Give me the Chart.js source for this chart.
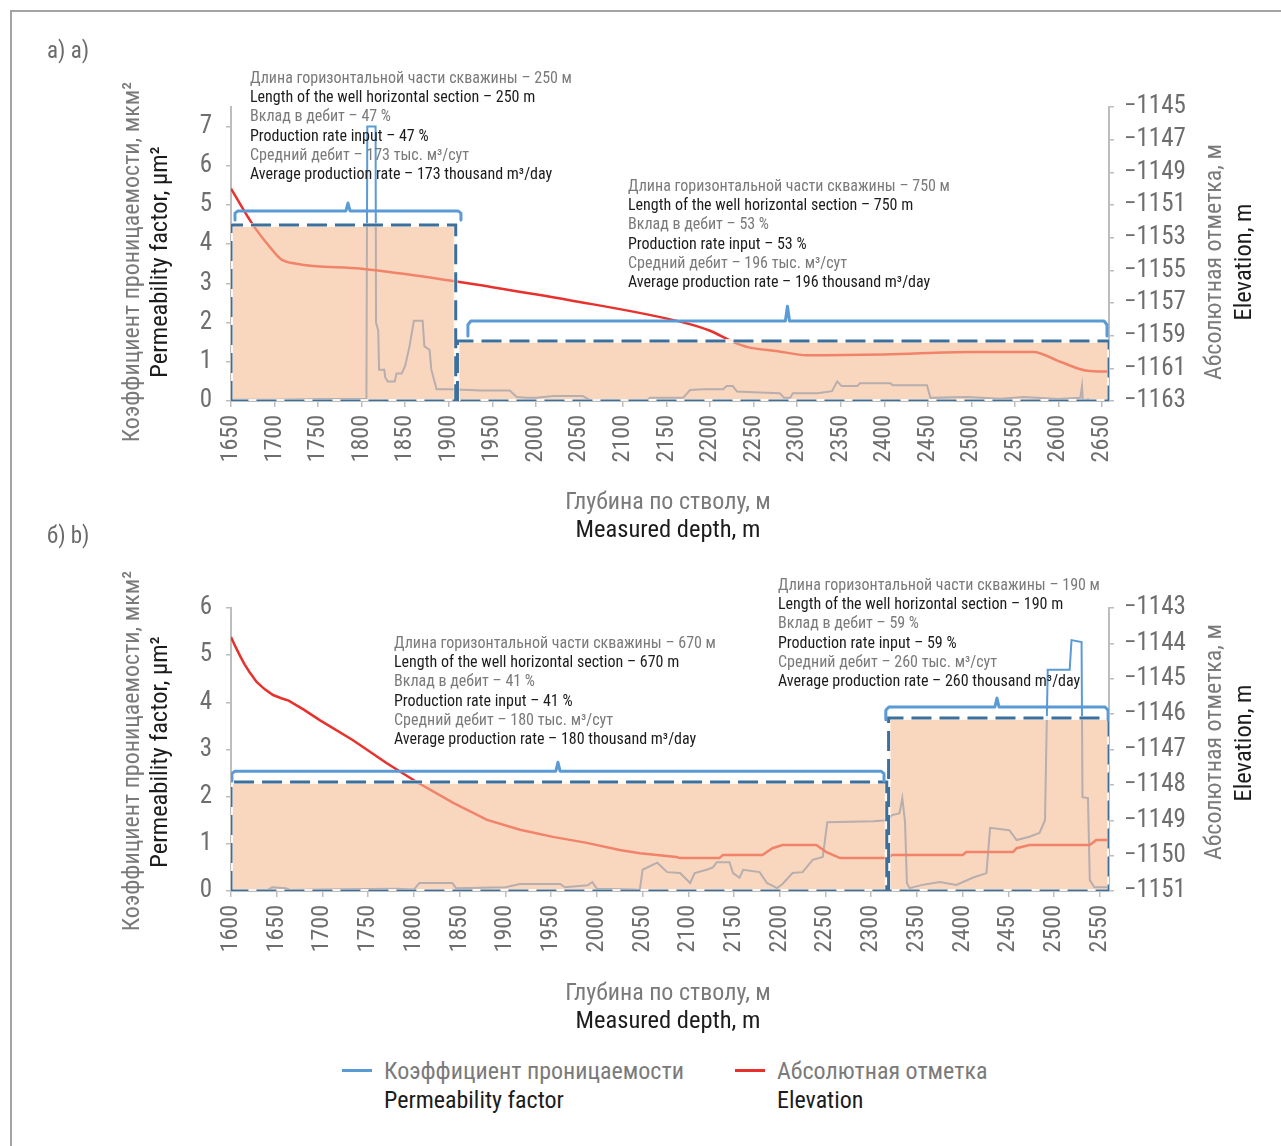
<!DOCTYPE html>
<html><head><meta charset="utf-8">
<script src="https://cdn.jsdelivr.net/npm/chart.js@4.4.1/dist/chart.umd.min.js"></script>
<style>
html,body{margin:0;padding:0;background:#fff;}
body{width:1281px;height:1146px;overflow:hidden;position:relative;font-family:"Roboto Condensed","Liberation Sans Narrow",Roboto,sans-serif;}
#frame{position:absolute;left:10px;top:10px;width:1400px;height:1300px;border:2px solid #a3a3a3;box-sizing:border-box;}
canvas{position:absolute;left:0;}
.t{position:absolute;white-space:nowrap;line-height:1;}
.g{color:#7a7a7a}.k{color:#1c1c1c}
.rot{transform:translate(-50%,-50%) rotate(-90deg);}
.ctr{transform:translate(-50%,-50%);}
.ann{position:absolute;font-size:16px;line-height:19.2px;white-space:nowrap;}
.ann div{height:19.2px;}
.ttl{font-size:24px;}
.ttlk{font-size:24.5px;}
.leg{position:absolute;height:3px;width:30px;}
</style></head><body>
<div id="frame"></div>
<canvas id="cA" width="1281" height="500" style="top:0"></canvas>
<canvas id="cB" width="1281" height="500" style="top:500px"></canvas>

<div class="t g" style="left:47px;top:39px;font-size:23px;color:#6a6a6a">а) a)</div>
<div class="t g" style="left:47px;top:524px;font-size:23px;color:#6a6a6a">б) b)</div>

<!-- top chart annotations -->
<div class="ann" style="left:250px;top:68px">
<div class="g">Длина горизонтальной части скважины – 250 м</div>
<div class="k">Length of the well horizontal section – 250 m</div>
<div class="g">Вклад в дебит – 47 %</div>
<div class="k">Production rate input – 47 %</div>
<div class="g">Средний дебит – 173 тыс. м³/сут</div>
<div class="k">Average production rate – 173 thousand m³/day</div>
</div>
<div class="ann" style="left:628px;top:176px">
<div class="g">Длина горизонтальной части скважины – 750 м</div>
<div class="k">Length of the well horizontal section – 750 m</div>
<div class="g">Вклад в дебит – 53 %</div>
<div class="k">Production rate input – 53 %</div>
<div class="g">Средний дебит – 196 тыс. м³/сут</div>
<div class="k">Average production rate – 196 thousand m³/day</div>
</div>
<!-- bottom chart annotations -->
<div class="ann" style="left:394px;top:633px">
<div class="g">Длина горизонтальной части скважины – 670 м</div>
<div class="k">Length of the well horizontal section – 670 m</div>
<div class="g">Вклад в дебит – 41 %</div>
<div class="k">Production rate input – 41 %</div>
<div class="g">Средний дебит – 180 тыс. м³/сут</div>
<div class="k">Average production rate – 180 thousand m³/day</div>
</div>
<div class="ann" style="left:778px;top:575px">
<div class="g">Длина горизонтальной части скважины – 190 м</div>
<div class="k">Length of the well horizontal section – 190 m</div>
<div class="g">Вклад в дебит – 59 %</div>
<div class="k">Production rate input – 59 %</div>
<div class="g">Средний дебит – 260 тыс. м³/сут</div>
<div class="k">Average production rate – 260 thousand m³/day</div>
</div>

<!-- axis titles top -->
<div class="t g ttl rot" style="left:131px;top:262px">Коэффициент проницаемости, мкм²</div>
<div class="t k ttlk rot" style="left:159px;top:262px">Permeability factor, µm²</div>
<div class="t g ttl rot" style="left:1213px;top:262px">Абсолютная отметка, м</div>
<div class="t k ttlk rot" style="left:1243px;top:262px">Elevation, m</div>
<div class="t g ttl ctr" style="left:668px;top:501px">Глубина по стволу, м</div>
<div class="t k ttlk ctr" style="left:668px;top:529px">Measured depth, m</div>
<!-- axis titles bottom -->
<div class="t g ttl rot" style="left:131px;top:751px">Коэффициент проницаемости, мкм²</div>
<div class="t k ttlk rot" style="left:159px;top:752px">Permeability factor, µm²</div>
<div class="t g ttl rot" style="left:1213px;top:742px">Абсолютная отметка, м</div>
<div class="t k ttlk rot" style="left:1243px;top:743px">Elevation, m</div>
<div class="t g ttl ctr" style="left:668px;top:992px">Глубина по стволу, м</div>
<div class="t k ttlk ctr" style="left:668px;top:1020px">Measured depth, m</div>

<!-- legend -->
<div class="leg" style="left:342px;top:1069px;background:#5b9bd5"></div>
<div class="t g ttl" style="left:384px;top:1059px">Коэффициент проницаемости</div>
<div class="t k ttl" style="left:384px;top:1088px">Permeability factor</div>
<div class="leg" style="left:735px;top:1069px;background:#e8312c"></div>
<div class="t g ttl" style="left:777px;top:1059px">Абсолютная отметка</div>
<div class="t k ttl" style="left:777px;top:1088px">Elevation</div>

<script>
// ---------- DATA: chart a ----------
const xTicksA = [1650,1700,1750,1800,1850,1900,1950,2000,2050,2100,2150,2200,2250,2300,2350,2400,2450,2500,2550,2600,2650];
const leftTicksA = [0,1,2,3,4,5,6,7];
const rightTicksA = [-1163,-1161,-1159,-1157,-1155,-1153,-1151,-1149,-1147,-1145];
const permDepthA = [1650,1700,1760,1805,1805.5,1806.5,1816,1816.5,1819,1820,1826,1827,1830,1838,1840,1846,1850,1855,1860,1870,1872,1878,1880,1886,1900,1924,1936,1970,1978,1990,2001,2020,2054,2062,2128,2131,2169,2177,2192,2215,2219,2226,2231,2257,2280,2285,2292,2295,2323,2340,2346,2351,2369,2372,2407,2410,2449,2453,2495,2533,2560,2600,2625,2627,2628,2635];
const permValueA = [0.03,0.03,0.05,0.05,0.3,7.0,7.0,2.0,1.8,0.8,0.8,0.6,0.5,0.5,0.7,0.7,0.9,1.4,2.05,2.05,1.4,1.3,0.8,0.3,0.3,0.28,0.27,0.27,0.1,0.08,0.08,0.13,0.13,0.02,0.02,0.08,0.08,0.28,0.3,0.3,0.38,0.38,0.24,0.22,0.2,0.08,0.08,0.2,0.2,0.25,0.5,0.38,0.38,0.45,0.45,0.4,0.4,0.08,0.1,0.06,0.1,0.05,0.08,0.38,0.0,0.05];
const elevDepthA = [1650,1675,1695,1707,1725,1800,1860,1905,1935,2036,2170,2200,2227,2243,2278,2311,2400,2500,2571,2602,2633,2658];
const elevValueA = [-1150.0,-1152.2,-1153.6,-1154.3,-1154.6,-1154.9,-1155.3,-1155.65,-1155.9,-1156.8,-1158.2,-1158.7,-1159.4,-1159.7,-1159.95,-1160.2,-1160.15,-1160.0,-1160.0,-1160.6,-1161.15,-1161.2];
const segStartA = [1650,1910];
const segEndA = [1908,2658];
const segPermA = [4.49,1.53];
const brStartA = [1654.6,1922];
const brEndA = [1914,2655.7];
const brLevelA = [4.85,2.04];
const brHookA = [4.62,1.66];
const brNubA = [5.05,2.42];

// ---------- DATA: chart b ----------
const xTicksB = [1600,1650,1700,1750,1800,1850,1900,1950,2000,2050,2100,2150,2200,2250,2300,2350,2400,2450,2500,2550];
const leftTicksB = [0,1,2,3,4,5,6];
const rightTicksB = [-1151,-1150,-1149,-1148,-1147,-1146,-1145,-1144,-1143];
const permDepthB = [1600,1640,1645,1660,1665,1700,1750,1780,1800,1806,1842,1846,1900,1916,1960,1965,1990,1995,2000,2040,2047,2050,2066,2077,2091,2102,2107,2120,2127,2131,2145,2149,2156,2160,2178,2186,2197,2203,2214,2225,2236,2247,2252,2302,2317,2323,2331,2334,2337,2339,2342,2356,2375,2393,2411,2426,2430,2451,2459,2473,2484,2490,2493,2517,2519,2530,2531,2537,2539,2544,2560];
const permValueB = [0.02,0.02,0.08,0.06,0.02,0.03,0.04,0.05,0.03,0.17,0.17,0.06,0.08,0.15,0.15,0.08,0.12,0.19,0.05,0.03,0.02,0.45,0.6,0.4,0.38,0.17,0.38,0.45,0.5,0.61,0.61,0.38,0.28,0.45,0.4,0.17,0.06,0.15,0.38,0.4,0.66,0.72,1.46,1.48,1.5,1.61,1.65,1.97,1.46,0.17,0.06,0.13,0.19,0.13,0.28,0.38,1.34,1.29,1.08,1.15,1.23,1.5,4.69,4.69,5.32,5.28,1.99,1.97,0.23,0.08,0.08];
const elevDepthB = [1600,1605,1610,1615,1620,1628,1637,1646,1655,1663,1680,1697,1733,1770,1803,1843,1880,1916,1952,1989,2025,2047,2087,2091,2134,2138,2181,2192,2203,2240,2251,2266,2317,2323,2400,2404,2455,2459,2473,2539,2546,2560];
const elevValueB = [-1143.82,-1144.1,-1144.36,-1144.6,-1144.8,-1145.09,-1145.3,-1145.46,-1145.55,-1145.62,-1145.88,-1146.17,-1146.73,-1147.38,-1147.92,-1148.51,-1148.99,-1149.27,-1149.47,-1149.64,-1149.84,-1149.93,-1150.04,-1150.07,-1150.07,-1149.98,-1149.98,-1149.79,-1149.7,-1149.7,-1149.9,-1150.07,-1150.07,-1149.98,-1149.98,-1149.9,-1149.9,-1149.79,-1149.7,-1149.7,-1149.56,-1149.56];
const segStartB = [1600,2319];
const segEndB = [2317,2560];
const segPermB = [2.31,3.67];
const brStartB = [1601,2316];
const brEndB = [2314,2559];
const brLevelB = [2.54,3.90];
const brHookB = [2.33,3.63];
const brNubB = [2.73,4.09];

// ---------- STYLE ----------
const FONT = '"Roboto Condensed", "Liberation Sans Narrow", Roboto, sans-serif';
const AXIS = '#bdbdbd';
const TICKC = '#6e6e6e';
const BLUE = '#5b9bd5';
const RED = '#e8312c';
const DASH = '#3d6f9b';
const FILL = 'rgba(245,186,146,0.6)';
Chart.defaults.font.family = FONT;

function pts(xs, ys){ return xs.map((x,i)=>({x:x, y:ys[i]})); }

function buildChart(id, d){
  const datasets = [];
  // brackets
  for (let i=0;i<d.brS.length;i++){
    const x0=d.brS[i], x1=d.brE[i], lv=d.brL[i], hk=d.brH[i], nb=d.brN[i];
    const xc=(x0+x1)/2, dx=d.dx, dy=(lv-hk)*0.25;
    datasets.push({data:[{x:x0,y:hk},{x:x0,y:lv-dy},{x:x0+dx,y:lv},{x:xc-dx*0.7,y:lv},{x:xc,y:nb},{x:xc+dx*0.7,y:lv},{x:x1-dx,y:lv},{x:x1,y:lv-dy},{x:x1,y:hk}],
      yAxisID:'y', borderColor:BLUE, borderWidth:3, pointRadius:0, fill:false, tension:0, borderJoinStyle:'round', borderCapStyle:'round', order:0});
  }
  // rect dashed borders + fills
  for (let i=0;i<d.sS.length;i++){
    const x0=d.sS[i], x1=d.sE[i], h=d.sP[i];
    const poly=[{x:x0,y:0},{x:x0,y:h},{x:x1,y:h},{x:x1,y:0},{x:x0,y:0}];
    datasets.push({data:poly, yAxisID:'y', borderColor:DASH, borderWidth:3, borderDash:[20,8], pointRadius:0, fill:false, tension:0, order:1});
    datasets.push({data:poly.map(p=>({x:p.x,y:p.y})), yAxisID:'y', borderColor:'rgba(255,255,255,0.85)', borderWidth:4, backgroundColor:FILL, pointRadius:0, fill:'shape', tension:0, order:2});
  }
  datasets.push({data:pts(d.eX,d.eY), yAxisID:'y2', borderColor:RED, borderWidth:2.5, pointRadius:0, fill:false,
    tension: d.smooth?0.4:0, cubicInterpolationMode: d.smooth?'monotone':'default', order:3});
  datasets.push({data:pts(d.pX,d.pY), yAxisID:'y', borderColor:BLUE, borderWidth:2, pointRadius:0, fill:false, tension:0, order:4});

  new Chart(document.getElementById(id), {
    type:'line',
    data:{datasets},
    options:{
      responsive:false, animation:false, devicePixelRatio:1,
      layout:{padding:{top:d.padTop,left:0,right:0,bottom:0}},
      plugins:{legend:{display:false}, tooltip:{enabled:false}, title:{display:false}},
      events:[],
      scales:{
        x:{type:'linear', position:'bottom', min:d.xMin, max:d.xMax,
          afterBuildTicks:s=>{s.ticks=d.xT.map(v=>({value:v}));},
          afterFit:s=>{s.height=d.xH;},
          ticks:{minRotation:90, maxRotation:90, autoSkip:false, padding:8, color:TICKC, font:{size:24}, callback:v=>String(v)},
          grid:{drawOnChartArea:false, drawTicks:true, tickLength:6, color:AXIS, lineWidth:1.5},
          border:{display:true, color:AXIS, width:2}},
        y:{type:'linear', position:'left', min:0, max:d.yMax,
          afterBuildTicks:s=>{s.ticks=d.yT.map(v=>({value:v}));},
          afterFit:s=>{s.width=231;},
          ticks:{autoSkip:false, padding:14, color:TICKC, font:{size:25}, callback:v=>String(v)},
          grid:{drawOnChartArea:false, drawTicks:true, tickLength:5, color:AXIS, lineWidth:1.5},
          border:{display:true, color:AXIS, width:2}},
        y2:{type:'linear', position:'right', min:d.y2Min, max:d.y2Max,
          afterBuildTicks:s=>{s.ticks=d.y2T.map(v=>({value:v}));},
          afterFit:s=>{s.width=172;},
          ticks:{autoSkip:false, padding:10, color:TICKC, font:{size:25}, callback:v=>'\u2212'+Math.abs(v)},
          grid:{drawOnChartArea:false, drawTicks:true, tickLength:5, color:AXIS, lineWidth:1.5},
          border:{display:true, color:AXIS, width:2}}
      }
    }
  });
}

buildChart('cA', {xMin:1650, xMax:2658, xT:xTicksA, yMax:7.5, yT:leftTicksA, y2Min:-1163, y2Max:-1145, y2T:rightTicksA,
  pX:permDepthA, pY:permValueA, eX:elevDepthA, eY:elevValueA, smooth:true,
  sS:segStartA, sE:segEndA, sP:segPermA, brS:brStartA, brE:brEndA, brL:brLevelA, brH:brHookA, brN:brNubA,
  dx:3.4, padTop:107, xH:99});
buildChart('cB', {xMin:1600, xMax:2560, xT:xTicksB, yMax:6, yT:leftTicksB, y2Min:-1151, y2Max:-1143, y2T:rightTicksB,
  pX:permDepthB, pY:permValueB, eX:elevDepthB, eY:elevValueB, smooth:false,
  sS:segStartB, sE:segEndB, sP:segPermB, brS:brStartB, brE:brEndB, brL:brLevelB, brH:brHookB, brN:brNubB,
  dx:3.3, padTop:108, xH:109});
</script>
</body></html>
